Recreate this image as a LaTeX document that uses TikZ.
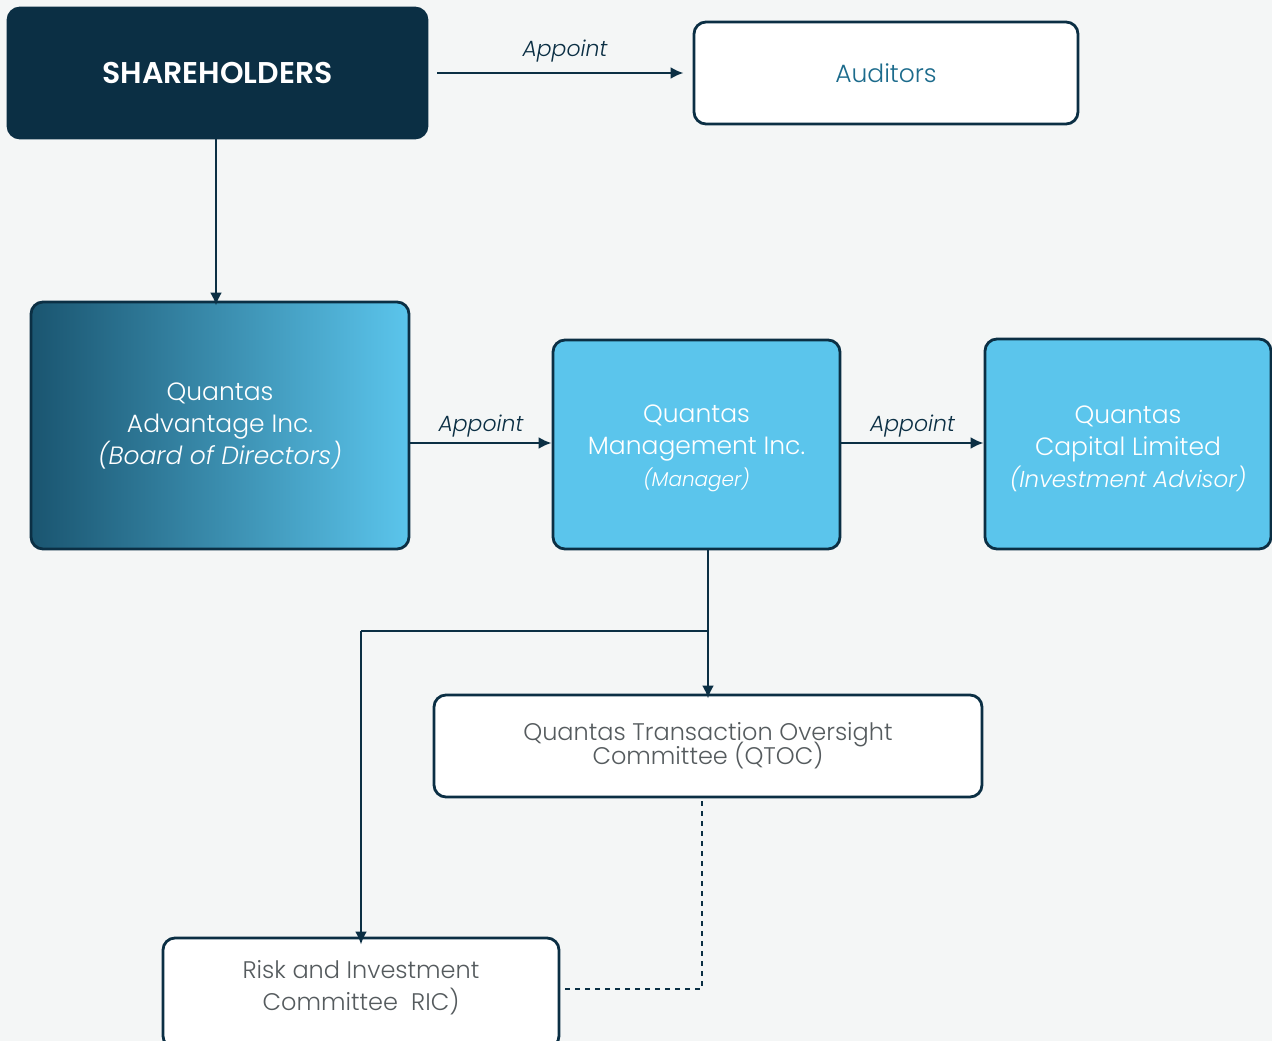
\documentclass[tikz,border=0pt]{standalone}
\usepackage{fontspec}
\setmainfont{Poppins}[UprightFont=* Light, ItalicFont=* Light Italic, BoldFont=* SemiBold]
\usetikzlibrary{arrows.meta}
\usetikzlibrary{positioning}

\definecolor{navy}{HTML}{0B2F44}
\definecolor{sky}{HTML}{5BC5EC}
\definecolor{deep}{HTML}{1A5570}
\definecolor{paper}{HTML}{F4F6F6}
\definecolor{teal}{HTML}{1C6B8C}
\definecolor{greytext}{HTML}{555B5E}

\tikzset{
    entity/.style={draw=navy, line width=2.8pt, rounded corners=12pt, inner sep=0pt, align=center, text=white},
    panel/.style={entity, fill=white, text=greytext},
    caption/.style={align=center, anchor=center, inner sep=0pt},
    link/.style={draw=navy, line width=2.8pt, -{Latex[length=13pt,width=12pt]}},
    tag/.style={text=navy, font=\fontsize{22}{26}\selectfont\itshape},
    big/.style={font=\fontsize{25}{32}\selectfont},
}

\begin{document}
\begin{tikzpicture}[x=1pt, y=-1pt]
    \fill[paper] (0,0) rectangle (1272,1041);
    \useasboundingbox (0,0) rectangle (1272,1041);

    % top row
    \node[entity, fill=navy, minimum width=419pt, minimum height=130pt, font=\fontsize{30}{30}\selectfont\bfseries] (holders) at (217.5,73) {SHAREHOLDERS};
    \node[panel, minimum width=384pt, minimum height=102pt, text=teal, big] (auditors) at (886,73) {Auditors};

    % middle row
    \node[entity, left color=deep, right color=sky, minimum width=378pt, minimum height=247pt, big] (board) at (220,425.5)
        {Quantas\\Advantage Inc.\\\itshape (Board of Directors)};
    \node[entity, fill=sky, minimum width=287pt, minimum height=209pt] (manager) at (696.5,444.5) {};
    \node[caption, text=white, big] (managertext) at ([yshift=-3.5pt]manager.center)
        {Quantas\\Management Inc.\\{\fontsize{20}{32}\selectfont\itshape (Manager)}};
    \node[entity, fill=sky, minimum width=286pt, minimum height=210pt] (advisor) at (1128,444) {};
    \node[caption, text=white, big] (advisortext) at ([yshift=-4.5pt]advisor.center)
        {Quantas\\Capital Limited\\{\fontsize{23}{32}\selectfont\itshape (Investment Advisor)}};

    % committees
    \node[panel, minimum width=548pt, minimum height=102pt, font=\fontsize{24}{25}\selectfont] (qtoc) at (708,746)
        {Quantas Transaction Oversight\\[-6pt]Committee (QTOC)};
    \node[panel, minimum width=396pt, minimum height=110pt] (ric) at (361,993) {};
    \node[caption, text=greytext, font=\fontsize{24}{32}\selectfont] (rictext) at ([yshift=5pt]ric.center)
        {Risk and Investment\\Committee~~RIC)};

    % appointments
    \coordinate (top) at (216,0);
    \draw[link, shorten >=9pt] ([xshift=9pt]holders.east) -- (auditors.west) node[tag, midway, above=6pt] {Appoint};
    \draw[link] (holders.south -| top) -- ([yshift=-5pt]board.north -| top);
    \draw[link] (board.east |- 0,443) -- (manager.west |- 0,443) node[tag, midway, above=1pt] {Appoint};
    \draw[link] (manager.east |- 0,443) -- (advisor.west |- 0,443) node[tag, midway, above=1pt] {Appoint};

    % committees links
    \coordinate (split) at (708,631);
    \draw[link] (manager.south -| split) -- ([yshift=-5pt]qtoc.north -| split);
    \draw[draw=navy, line width=2.8pt] (split) -- (361,631) coordinate (bend);
    \draw[link] (bend) -- ([yshift=-8pt]ric.north);
    \draw[draw=navy, line width=2.8pt, dash pattern=on 5pt off 5pt] ([yshift=-3pt]qtoc.south -| 702,0) -- (702,989) coordinate (knee) -- (ric.east |- knee);

\end{tikzpicture}
\end{document}
